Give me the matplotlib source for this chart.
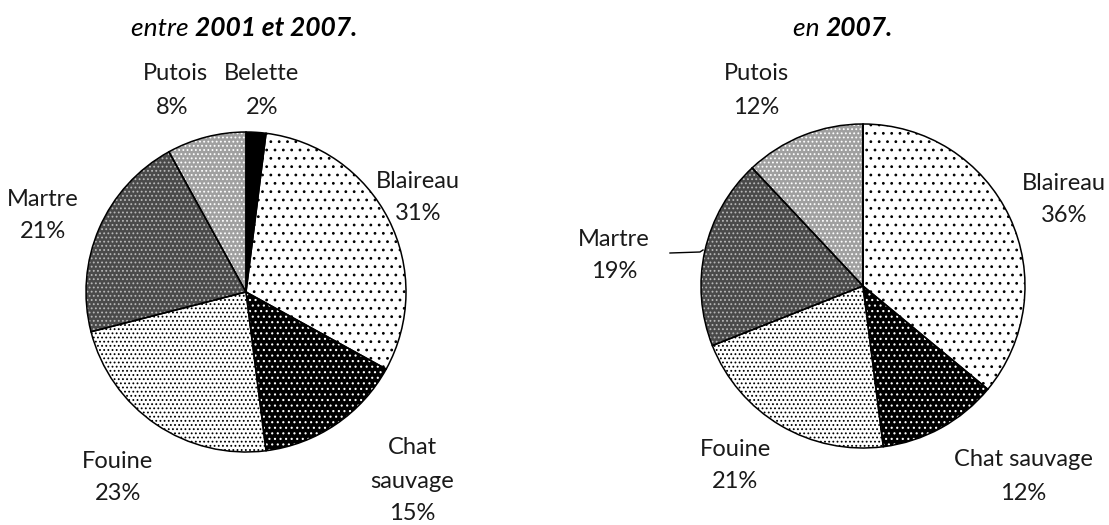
import matplotlib
matplotlib.use("Agg")
import matplotlib.pyplot as plt

# ---- data ----
categories = ["Belette", "Blaireau", "Chat sauvage", "Fouine", "Martre", "Putois"]
values_2001_2007 = [2, 31, 15, 23, 21, 8]
values_2007 = [0, 36, 12, 21, 19, 12]
title_left = ("entre ", "2001 et 2007.")
title_right = ("en ", "2007.")

# ---- styles ----
face = ["black", "white", "black", "white", "#4a4a4a", "#a0a0a0"]
hatchc = ["black", "black", "white", "black", "#b8b8b8", "white"]
hatches = ["", "..", "...", "....", "....", "...."]

W, H = 1109, 525
plt.rcParams['font.family'] = ['Lato', 'DejaVu Sans']
plt.rcParams['hatch.linewidth'] = 0.8
fig = plt.figure(figsize=(W / 100, H / 100), dpi=100)
ax = fig.add_axes([0, 0, 1, 1])


def Y(y):
    return H - y


def draw_pie(vals, cx, cy, r):
    wedges, _ = ax.pie(vals, center=(cx, Y(cy)), radius=r, startangle=90,
                       counterclock=False, colors=face,
                       wedgeprops=dict(linewidth=0), frame=True)
    for w, h, hc in zip(wedges, hatches, hatchc):
        if h:
            w.set_hatch(h)
            w.set_edgecolor(hc)
            w.set_linewidth(0)
    ax.pie(vals, center=(cx, Y(cy)), radius=r, startangle=90,
           counterclock=False, frame=True,
           wedgeprops=dict(fill=False, edgecolor='black', linewidth=1.1))


draw_pie(values_2001_2007, 246, 292, 160)
draw_pie(values_2007, 863, 286, 162)
ax.set_xlim(0, W)
ax.set_ylim(0, H)
ax.set_aspect('equal')
ax.axis('off')

fs = 17


def lab(x, y, s):
    ax.text(x, Y(y), s, ha='center', va='center', fontsize=fs,
            color='#1a1a1a', weight='normal')


# left pie labels
v = dict(zip(categories, values_2001_2007))
lab(175, 73, "Putois"); lab(172, 107, f"{v['Putois']}%")
lab(261, 73, "Belette"); lab(262, 107, f"{v['Belette']}%")
lab(418, 181, "Blaireau"); lab(418, 214, f"{v['Blaireau']}%")
lab(43, 199, "Martre"); lab(43, 231, f"{v['Martre']}%")
lab(117, 462, "Fouine"); lab(118, 494, f"{v['Fouine']}%")
lab(412, 448, "Chat"); lab(412, 481, "sauvage"); lab(412, 514, f"{v['Chat sauvage']}%")

# right pie labels
v = dict(zip(categories, values_2007))
lab(756, 73, "Putois"); lab(756, 108, f"{v['Putois']}%")
lab(1064, 184, "Blaireau"); lab(1064, 215, f"{v['Blaireau']}%")
lab(614, 239, "Martre"); lab(614, 271, f"{v['Martre']}%")
lab(735, 449, "Fouine"); lab(735, 482, f"{v['Fouine']}%")
lab(1023, 460, "Chat sauvage"); lab(1023, 493, f"{v['Chat sauvage']}%")
ax.plot([670, 700, 703], [Y(253), Y(252), Y(250)], color='black', lw=1)


# titles (mixed weight)
def title(cx, cy, parts):
    fig.canvas.draw()
    r = fig.canvas.get_renderer()
    t1 = ax.text(0, 0, parts[0], fontsize=19, style='italic', weight='normal', va='center')
    t2 = ax.text(0, 0, parts[1], fontsize=19, style='italic', weight='bold', va='center')
    w1 = t1.get_window_extent(r).width
    w2 = t2.get_window_extent(r).width
    x0 = cx - (w1 + w2) / 2
    t1.set_position((x0, Y(cy)))
    t2.set_position((x0 + w1, Y(cy)))


title(244, 28, title_left)
title(843, 28, title_right)

fig.savefig("out.png", dpi=100)
